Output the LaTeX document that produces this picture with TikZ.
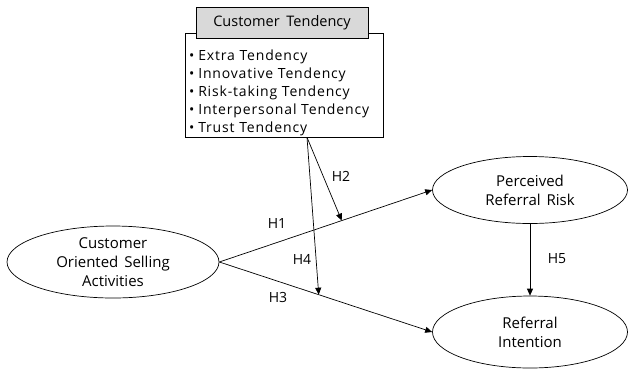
\documentclass[tikz,border=0pt]{standalone}
\usepackage{fontspec}
\setmainfont{Open Sans}
\newfontfamily\itemfont[LetterSpace=6,WordSpace=1.8]{Open Sans}
\usetikzlibrary{shapes.geometric,arrows.meta}

\begin{document}
\begin{tikzpicture}[x=1pt,y=-1pt,line width=0.7pt,
        font=\fontsize{13.5}{18}\selectfont,
        construct/.style={draw,ellipse,align=center,inner sep=0pt,
            font=\fontsize{15}{19}\selectfont},
        hpath/.style={draw,-{Triangle[length=7pt,width=6pt]}},
        hlabel/.style={inner sep=0pt,font=\fontsize{14}{16}\selectfont}]
    \useasboundingbox (0,0) rectangle (629,368);
    % moderator box
    \node[draw,minimum width=198pt,minimum height=104pt] (tend) at (284,85) {};
    \node[align=left,text width=190pt,inner sep=0pt,font=\itemfont\fontsize{14}{18}\selectfont]
        (items) at ([yshift=-8pt]tend.center)
        {\textbullet\hspace{4pt}Extra Tendency\\
         \textbullet\hspace{4pt}Innovative Tendency\\
         \textbullet\hspace{4pt}Risk-taking Tendency\\
         \textbullet\hspace{4pt}Interpersonal Tendency\\
         \textbullet\hspace{4pt}Trust Tendency};
    \node[draw,fill=gray!30,minimum width=172pt,minimum height=31pt,
        font=\fontsize{14.5}{18}\selectfont] (head) at (282,23) {Customer\hspace{3pt} Tendency};
    % constructs
    \node[construct,minimum width=212pt,minimum height=72pt] (cosa) at (113,262)
        {Customer\\Oriented\hspace{2pt} Selling\\Activities};
    \node[construct,minimum width=195pt,minimum height=67pt] (risk) at (530,190)
        {Perceived\\Referral\hspace{2pt} Risk};
    \node[construct,minimum width=195pt,minimum height=72pt] (intent) at (530,332)
        {Referral\\Intention};
    % paths
    \coordinate (src) at ([xshift=23pt]tend.south);
    \path (cosa.east) -- (risk.west) coordinate[pos=0.575] (m1);
    \path (cosa.east) -- (intent.west) coordinate[pos=0.467] (m3);
    \draw[hpath] (cosa.east) -- (risk.west);
    \draw[hpath] (cosa.east) -- (intent.west);
    \draw[hpath] (risk.south) -- (intent.north);
    \draw[hpath] (src) -- (m1);
    \draw[hpath] (src) -- (m3);
    % labels
    \node[hlabel] (h1) at (277,223) {H1};
    \node[hlabel] (h2) at (341,176) {H2};
    \node[hlabel] (h3) at (278,297) {H3};
    \node[hlabel] (h4) at (302,259) {H4};
    \node[hlabel] (h5) at (557,259) {H5};
\end{tikzpicture}
\end{document}
